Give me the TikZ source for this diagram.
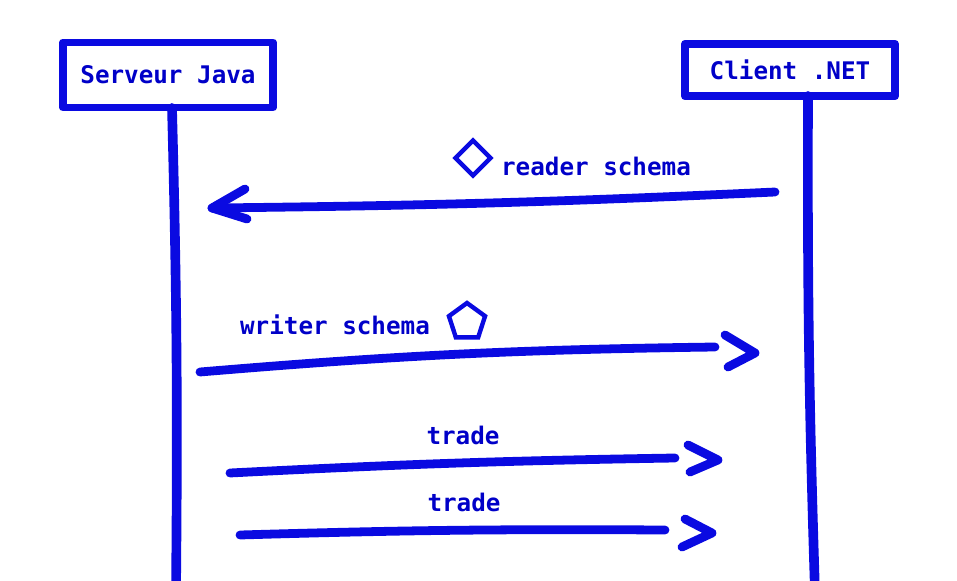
\documentclass[tikz,border=0pt]{standalone}
\usepackage{fontspec}
\setmonofont{DejaVu Sans Mono}
\usetikzlibrary{shapes.geometric}
\definecolor{penblue}{RGB}{10,10,225}
\definecolor{inkblue}{RGB}{0,0,200}

\begin{document}
\begin{tikzpicture}[
  x=0.02cm, y=-0.02cm,
  pen/.style={draw=penblue, line width=5pt, line cap=round, line join=round},
  actor/.style={pen, line width=4.5pt, rectangle, minimum width=4.2cm, inner sep=0pt, text=inkblue, font=\ttfamily\bfseries\fontsize{13.8}{16}\selectfont},
  lbl/.style={inner sep=0pt, text=inkblue, font=\ttfamily\bfseries\fontsize{13.8}{16}\selectfont},
  symb/.style={draw=penblue, line width=2.5pt, inner sep=0pt}
]
\useasboundingbox (0,0) rectangle (957,581);

% actors
\node[actor, minimum height=1.3cm] (srv) at (168,75) {Serveur Java};
\node[actor, minimum height=1.05cm] (cli) at (790,70) {Client .NET};

% lifelines
\coordinate (srvtop) at (172,108);
\coordinate (srvend) at (176,592);
\coordinate (clitop) at (808,96);
\coordinate (cliend) at (815,592);
\draw[pen, line width=5.5pt] (srvtop) to[bend left=1] (srvend);
\draw[pen, line width=5.5pt] (clitop) to[bend right=1] (cliend);

% reader schema
\coordinate (m1a) at (775,192);
\coordinate (m1b) at (212,208);
\draw[pen] (m1a) to[bend left=1] (m1b);
\draw[pen] (m1b) ++(33,-19) -- (m1b) -- ++(35,11);
\node[symb, diamond, minimum size=0.74cm] (rd) at (473,158) {};
\node[lbl] (rdtxt) at (596,166) {reader schema};

% writer schema
\coordinate (m2a) at (200,372);
\coordinate (m2b) at (715,347);
\coordinate (h2) at (755,353);
\draw[pen] (m2a) to[bend left=2] (m2b);
\draw[pen] (h2) ++(-30,-18) -- (h2) -- ++(-27,14);
\node[symb, regular polygon, regular polygon sides=5, minimum size=0.76cm] (wr) at (467,322) {};
\node[lbl] (wrtxt) at (335,325) {writer schema};

% trades
\coordinate (m3a) at (230,473);
\coordinate (m3b) at (675,458);
\coordinate (h3) at (718,460);
\draw[pen] (m3a) to[bend left=1] (m3b);
\draw[pen] (h3) ++(-30,-15) -- (h3) -- ++(-28,12);
\node[lbl] (t1) at (463,435) {trade};

\coordinate (m4a) at (240,535);
\coordinate (m4b) at (665,530);
\coordinate (h4) at (712,533);
\draw[pen] (m4a) to[bend left=1] (m4b);
\draw[pen] (h4) ++(-27,-14) -- (h4) -- ++(-30,14);
\node[lbl] (t2) at (464,502) {trade};
\end{tikzpicture}
\end{document}
